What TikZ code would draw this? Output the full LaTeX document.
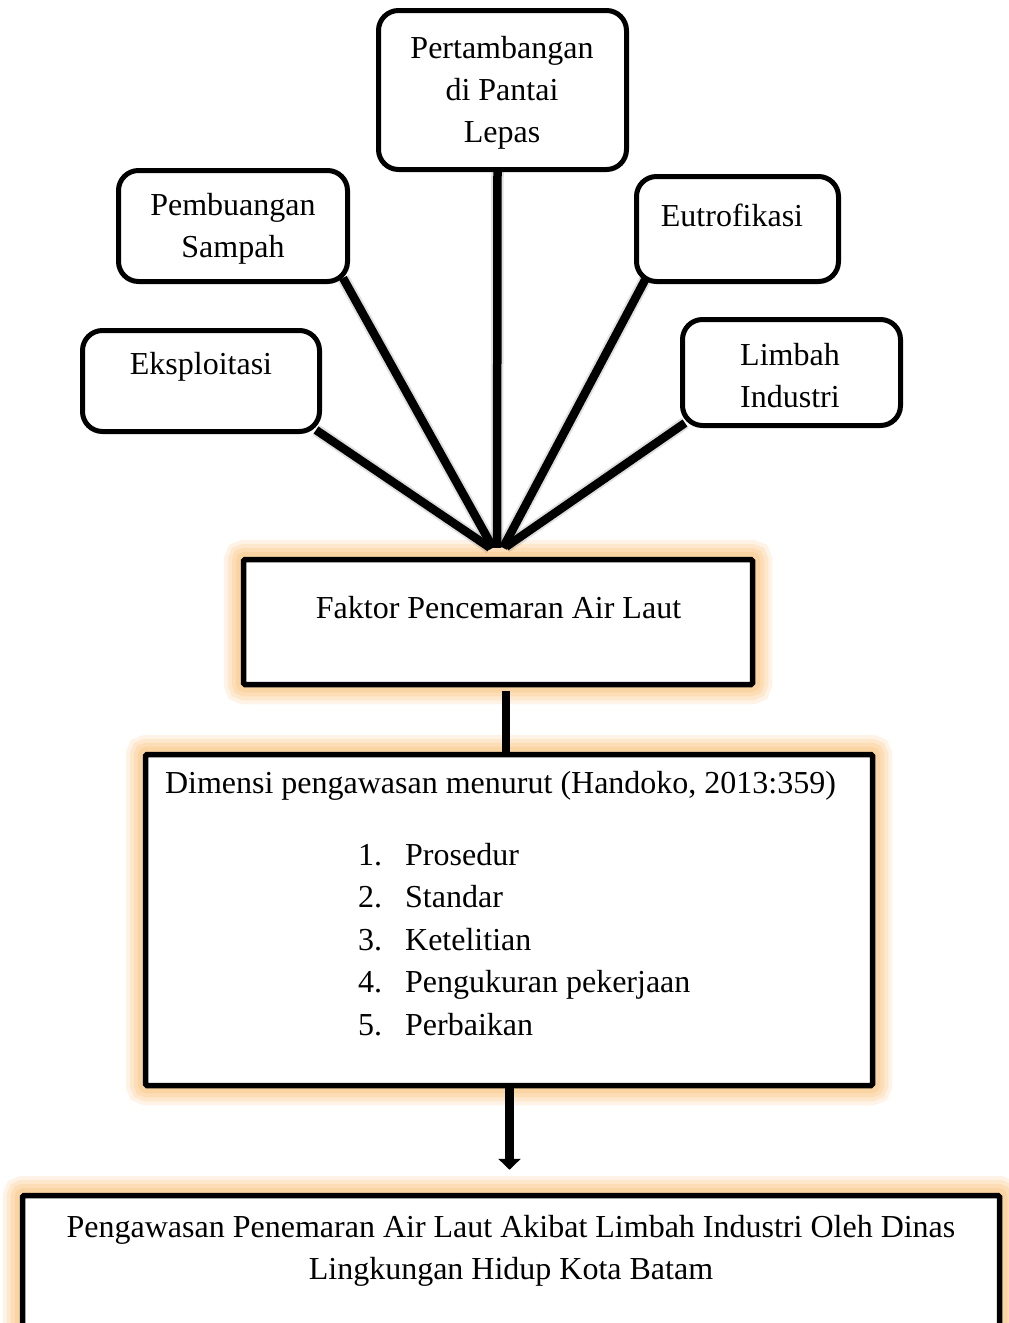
\documentclass[tikz,border=0pt]{standalone}
\usepackage{fontspec}
\setmainfont{Liberation Serif}
\usetikzlibrary{arrows.meta,calc}
\pgfdeclarelayer{glowlayer}
\pgfdeclarelayer{linelayer}
\pgfsetlayers{glowlayer,linelayer,main}
\definecolor{glowc}{RGB}{250,196,130}
\tikzset{
  rbox/.style={draw, line width=5pt, rounded corners=20pt, fill=white, inner sep=0pt},
  sbox/.style={draw, line width=5.5pt, rounded corners=1.5pt, fill=white, inner sep=0pt},
  txt/.style={font=\fontsize{32}{42}\selectfont, align=center, inner sep=0pt},
  spoke/.style={line width=8.5pt},
  spokeshadow/.style={line width=12.5pt, black, opacity=0.12},
}
\newcommand\glowbox[1]{%
  \begin{pgfonlayer}{glowlayer}
    \foreach \w/\o in {34/0.2,26/0.25,18/0.3,10/0.35}
      \draw[glowc, line width=\w pt, opacity=\o, rounded corners=4pt]
        (#1.south west) rectangle (#1.north east);
  \end{pgfonlayer}}
\begin{document}
\begin{tikzpicture}[x=1pt,y=-1pt]
\clip (0,0) rectangle (1009,1323);

% top boxes
\node[rbox, minimum width=248, minimum height=159] (per) at (502.5,90) {};
\node[txt] (pert) at (502,93) {Pertambangan\\di Pantai\\Lepas};
\node[rbox, minimum width=229, minimum height=111] (pem) at (233,226) {};
\node[txt] (pemt) at (233,229) {Pembuangan\\Sampah};
\node[rbox, minimum width=202, minimum height=105] (eut) at (737.5,229) {};
\node[txt] (eutt) at (732,215) {Eutrofikasi};
\node[rbox, minimum width=237, minimum height=101] (eks) at (201,381) {};
\node[txt] (ekst) at (201,367) {Eksploitasi};
\node[rbox, minimum width=218, minimum height=106] (lim) at (791.5,372.5) {};
\node[txt] (limt) at (790,376) {Limbah\\Industri};

% Faktor box
\node[sbox, minimum width=509, minimum height=125] (fak) at (498,622) {};
\node[txt] (fakt) at (498.5,608) {Faktor Pencemaran Air Laut};
\glowbox{fak}

% Dimensi box
\node[sbox, minimum width=727, minimum height=331] (dim) at (509,920) {};
\node[txt] (dimt) at (500.5,786) {Dimensi pengawasan menurut (Handoko, 2013:359)};
\foreach \i/\t in {1/Prosedur,2/Standar,3/Ketelitian,4/Pengukuran pekerjaan,5/Perbaikan}
  \node[txt, anchor=base west] (l\i) at (358,{865+42.5*(\i-1)}) {\makebox[47pt][l]{\i.}\t};
\glowbox{dim}

% bottom box
\node[sbox, minimum width=977, minimum height=147] (bot) at (511,1269) {};
\node[txt] (bott) at (511,1251) {Pengawasan Penemaran Air Laut Akibat Limbah Industri Oleh Dinas\\Lingkungan Hidup Kota Batam};
\glowbox{bot}

% spokes
\begin{pgfonlayer}{linelayer}
  \coordinate (h1) at ($(fak.north)+(-8,-9)$);
  \coordinate (h2) at ($(fak.north)+(-5,-9)$);
  \coordinate (h3) at ($(fak.north)+(-1,-9)$);
  \coordinate (h4) at ($(fak.north)+(5,-9)$);
  \coordinate (h5) at ($(fak.north)+(8,-10)$);
  \foreach \s in {spokeshadow,spoke}{
    \draw[\s] ($(eks.south east)+(-6,-4)$) -- (h1);
    \draw[\s] ($(pem.south east)+(-7,-6)$) -- (h2);
    \draw[\s] ($(per.south)+(-5,0)$) -- (h3);
    \draw[\s] ($(eut.south west)+(11,-4)$) -- (h4);
    \draw[\s] ($(lim.south west)+(5,-5)$) -- (h5);
  }
  \draw[line width=8pt] ($(fak.south)+(8,4)$) -- ($(dim.north)+(-3,0)$);
\end{pgfonlayer}

% arrow
\draw[line width=9pt, -{Triangle[width=22pt,length=11pt]}]
  ($(dim.south)+(0.5,-4)$) -- ($(bot.north)+(-1.5,-23)$);
\end{tikzpicture}
\end{document}
